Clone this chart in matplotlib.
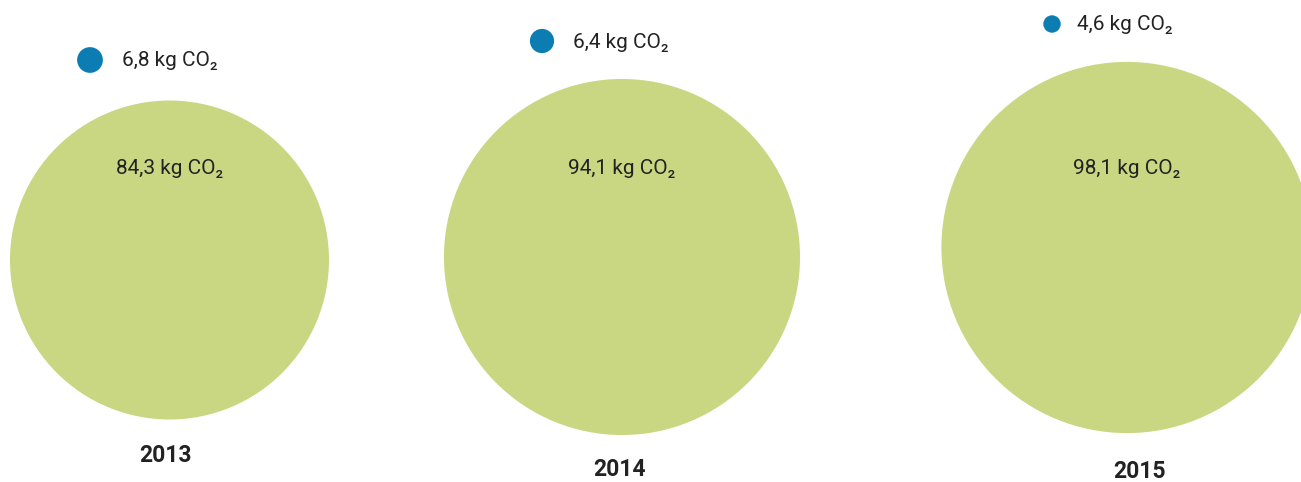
import matplotlib
matplotlib.use("Agg")
import matplotlib.pyplot as plt
from matplotlib.patches import Circle

plt.rcParams['font.family'] = ['Roboto', 'DejaVu Sans']

# Data
years = ["2013", "2014", "2015"]
total_kg = [84.3, 94.1, 98.1]
small_kg = [6.8, 6.4, 4.6]

# Layout (pixel-space coordinates)
W, H = 1301, 482
px_per_kg = 1.892
big_centers = [(169.5, 260), (622, 257), (1127, 247.5)]
dot_centers = [(90, 60), (542, 41), (1052, 24)]
dot_label_x = [122, 573, 1077]
year_pos = [(166, 456), (619, 469), (1140, 472)]

GREEN = "#C9D783"
BLUE = "#0B7DB3"
TEXT = "#222222"


def fmt(v):
    return f"{v:.1f}".replace(".", ",") + " kg CO\u2082"


fig = plt.figure(figsize=(W / 100, H / 100), dpi=100)
ax = fig.add_axes([0, 0, 1, 1])
ax.set_xlim(0, W)
ax.set_ylim(H, 0)
ax.set_aspect("equal")
ax.axis("off")

for yr, tot, sm, bc, dc, lx, yp in zip(years, total_kg, small_kg,
                                        big_centers, dot_centers,
                                        dot_label_x, year_pos):
    ax.add_patch(Circle(bc, tot * px_per_kg, facecolor=GREEN, edgecolor="none"))
    ax.text(bc[0], 168, fmt(tot), ha="center", va="center",
            fontsize=15, color=TEXT)
    ax.add_patch(Circle(dc, sm * px_per_kg, facecolor=BLUE, edgecolor="none"))
    ax.text(lx, dc[1] + 1, fmt(sm), ha="left", va="center",
            fontsize=15, color=TEXT)
    ax.text(yp[0], yp[1], yr, ha="center", va="center",
            fontsize=16.5, fontweight="bold", color=TEXT)

fig.savefig("out.png", dpi=100)
